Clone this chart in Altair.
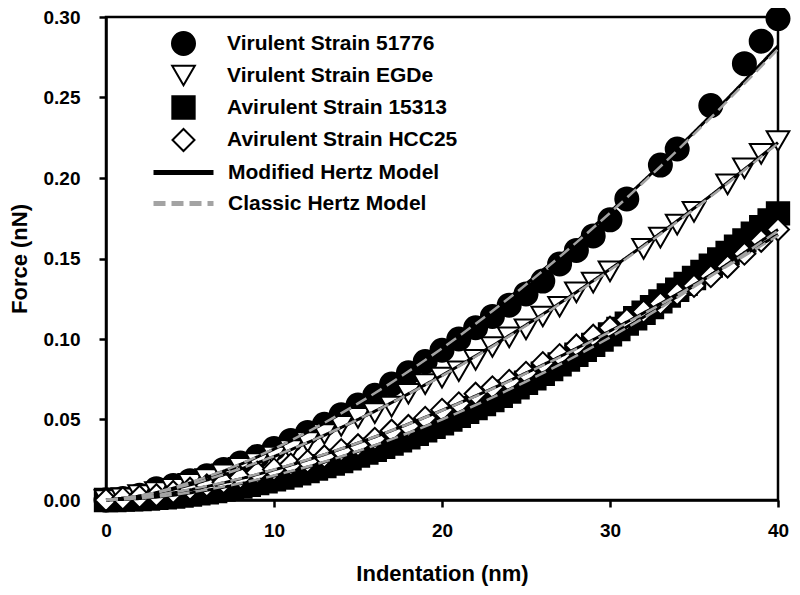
import altair as alt
import pandas as pd

SERIES = ["Virulent Strain 51776", "Virulent Strain EGDe",
          "Avirulent Strain 15313", "Avirulent Strain HCC25"]
MODELS = ["Modified Hertz Model", "Classic Hertz Model"]

# ---- measured data (indentation nm, force nN) ----
x_51776 = [0, 1, 2, 3, 4, 5, 6, 7, 8, 9, 10, 11, 12, 13, 14, 15, 16, 17, 18, 19, 20,
           21, 22, 23, 24, 25, 26, 27, 28, 29, 30, 31, 33, 34, 36, 38, 39, 40]
f_51776 = [0.000, 0.001, 0.003, 0.007, 0.009, 0.012, 0.015, 0.019, 0.023, 0.027, 0.032,
           0.037, 0.042, 0.047, 0.053, 0.059, 0.065, 0.072, 0.079, 0.086, 0.093,
           0.100, 0.107, 0.114, 0.121, 0.128, 0.136, 0.1466, 0.155, 0.164, 0.174,
           0.187, 0.208, 0.218, 0.245, 0.271, 0.285, 0.299]

x_egde = [0, 1, 2, 3, 4, 5, 6, 7, 8, 9, 10, 11, 12, 13, 14, 15, 16, 17, 18, 19, 20,
          21, 22, 23, 24, 25, 26, 27, 28, 29, 30, 32, 33, 34, 35, 37, 38, 39, 40]
f_egde = [0.000, 0.001, 0.003, 0.005, 0.007, 0.010, 0.013, 0.016, 0.020, 0.023, 0.027,
          0.031, 0.036, 0.041, 0.046, 0.051, 0.054, 0.058, 0.066, 0.072, 0.076,
          0.080, 0.087, 0.095, 0.101, 0.106, 0.114, 0.120, 0.129, 0.135, 0.142,
          0.156, 0.163, 0.171, 0.179, 0.196, 0.206, 0.215, 0.223]

x_15313 = [0, 0.5, 1, 1.5, 2, 2.5, 3, 3.5, 4, 4.5, 5, 5.5, 6, 6.5, 7, 7.5, 8, 8.5, 9, 9.5,
           10, 10.5, 11, 11.5, 12, 12.5, 13, 13.5, 14, 14.5, 15, 15.5, 16, 16.5, 17, 17.5,
           18, 18.5, 19, 19.5, 20, 20.5, 21, 21.5, 22, 22.5, 23, 23.5, 24, 24.5, 25, 25.5,
           26, 26.5, 27, 27.5, 28, 28.5, 29, 29.5, 30, 30.5, 31, 31.5, 32, 32.5, 33, 33.5,
           34, 34.5, 35, 35.5, 36, 36.5, 37, 37.5, 38, 38.5, 39, 39.5, 40]
f_15313 = [0.0000, 0.0000, 0.0002, 0.0004, 0.0006, 0.0009, 0.0013, 0.0017, 0.0022, 0.0028,
           0.0034, 0.0041, 0.0048, 0.0056, 0.0065, 0.0074, 0.0084, 0.0094, 0.0105, 0.0116,
           0.0128, 0.0140, 0.0153, 0.0166, 0.0180, 0.0195, 0.0210, 0.0226, 0.0242, 0.0259,
           0.0276, 0.0294, 0.0312, 0.0331, 0.0350, 0.0370, 0.0390, 0.0411, 0.0432, 0.0454,
           0.0476, 0.0499, 0.0523, 0.0547, 0.0571, 0.0596, 0.0621, 0.0647, 0.0673, 0.0700,
           0.0728, 0.0756, 0.0784, 0.0813, 0.0842, 0.0872, 0.0902, 0.0933, 0.0964, 0.0996,
           0.1029, 0.1062, 0.1095, 0.1129, 0.1163, 0.1198, 0.1234, 0.1270, 0.1306, 0.1342,
           0.1379, 0.1417, 0.1456, 0.1495, 0.1534, 0.1573, 0.1613, 0.1654, 0.1695, 0.1737,
           0.1780]

x_hcc25 = [0, 1, 2, 3, 4, 5, 6, 7, 8, 9, 10, 11, 12, 13, 14, 15, 16, 17, 18, 19, 20,
           21, 22, 23, 24, 25, 26, 27, 28, 29, 30, 31, 32, 33, 34, 35, 36, 37, 38, 39, 40]
f_hcc25 = [0.000, 0.001, 0.002, 0.003, 0.005, 0.007, 0.009, 0.011, 0.014, 0.017, 0.019,
           0.022, 0.024, 0.027, 0.031, 0.034, 0.038, 0.043, 0.046, 0.051, 0.056,
           0.060, 0.066, 0.070, 0.074, 0.079, 0.085, 0.090, 0.096, 0.102, 0.107,
           0.112, 0.117, 0.122, 0.128, 0.133, 0.139, 0.145, 0.153, 0.161, 0.168]

# ---- model curves ----
fit_x = [0, 2.5, 5, 7.5, 10, 15, 20, 25, 30, 35, 40]
mod_51776 = [0, 0.0035, 0.0106, 0.0200, 0.0316, 0.0599, 0.0943, 0.1342, 0.1790, 0.2284, 0.2820]
cls_51776 = [0, 0.0037, 0.0109, 0.0203, 0.0318, 0.0600, 0.0942, 0.1338, 0.1783, 0.2272, 0.2800]
mod_egde = [0, 0.0033, 0.0094, 0.0174, 0.0270, 0.0500, 0.0774, 0.1087, 0.1434, 0.1812, 0.2220]
cls_egde = [0, 0.0035, 0.0097, 0.0177, 0.0272, 0.0500, 0.0771, 0.1082, 0.1428, 0.1806, 0.2215]
mod_15313 = [0, 0.0013, 0.0044, 0.0090, 0.0149, 0.0302, 0.0500, 0.0738, 0.1015, 0.1330, 0.1680]
cls_15313 = [0, 0.0015, 0.0047, 0.0093, 0.0152, 0.0304, 0.0500, 0.0736, 0.1010, 0.1323, 0.1672]
mod_hcc25 = [0, 0.0021, 0.0063, 0.0119, 0.0187, 0.0354, 0.0557, 0.0789, 0.1050, 0.1338, 0.1650]
cls_hcc25 = [0, 0.0023, 0.0066, 0.0121, 0.0189, 0.0355, 0.0556, 0.0786, 0.1045, 0.1332, 0.1642]

# ---- build tables ----
pts = []
for name, xs, ys in [(SERIES[0], x_51776, f_51776), (SERIES[2], x_15313, f_15313),
                     (SERIES[1], x_egde, f_egde), (SERIES[3], x_hcc25, f_hcc25)]:
    for a, b in zip(xs, ys):
        pts.append({"x": a, "y": b, "series": name})
pts = pd.DataFrame(pts)

fits = []
for name, m, c in [(SERIES[0], mod_51776, cls_51776), (SERIES[1], mod_egde, cls_egde),
                   (SERIES[2], mod_15313, cls_15313), (SERIES[3], mod_hcc25, cls_hcc25)]:
    for a, b in zip(fit_x, m):
        fits.append({"x": a, "y": b, "series": name, "model": MODELS[0]})
    for a, b in zip(fit_x, c):
        fits.append({"x": a, "y": b, "series": name, "model": MODELS[1]})
fits = pd.DataFrame(fits)

FONT = "Liberation Sans"

xenc = alt.X("x:Q", scale=alt.Scale(domain=[0, 40], nice=False, zero=False),
             axis=alt.Axis(values=[0, 10, 20, 30, 40], format="d", title="Indentation (nm)",
                           labelPadding=14, titlePadding=23, labelFlush=False))
yenc = alt.Y("y:Q", scale=alt.Scale(domain=[0, 0.30], nice=False, zero=False),
             axis=alt.Axis(values=[0, 0.05, 0.10, 0.15, 0.20, 0.25, 0.30], format=".2f",
                           title="Force (nN)", labelPadding=19, titlePadding=12, labelFlush=False))

pt_legend = alt.Legend(title=None, orient="none", legendX=65, legendY=14, padding=0,
                       labelFont=FONT, labelFontSize=21, labelFontWeight="bold",
                       labelColor="black", labelOffset=31, rowPadding=2, labelLimit=0,
                       symbolStrokeWidth=2)

points = alt.Chart(pts).mark_point(filled=True, strokeWidth=2, opacity=1).encode(
    x=xenc, y=yenc,
    shape=alt.Shape("series:N", scale=alt.Scale(domain=SERIES,
                    range=["circle", "triangle-down", "square", "diamond"]), legend=pt_legend),
    fill=alt.Fill("series:N", scale=alt.Scale(domain=SERIES,
                  range=["black", "white", "black", "white"]), legend=pt_legend),
    stroke=alt.Stroke("series:N", scale=alt.Scale(domain=SERIES,
                      range=["black", "black", "black", "black"]), legend=pt_legend),
    size=alt.Size("series:N", scale=alt.Scale(domain=SERIES,
                  range=[529, 484, 400, 576]), legend=pt_legend),
)

ln_legend = alt.Legend(title=None, orient="none", legendX=65, legendY=143, padding=0,
                       labelFont=FONT, labelFontSize=21, labelFontWeight="bold",
                       labelColor="black", labelOffset=32, rowPadding=8, labelLimit=0,
                       symbolType="M-3,0L3,0", symbolSize=400, symbolStrokeWidth=5)

color_enc = alt.Color("model:N", scale=alt.Scale(domain=MODELS, range=["black", "#a3a3a3"]),
                      legend=ln_legend)
dash_enc = alt.StrokeDash("model:N", scale=alt.Scale(domain=MODELS, range=[[1, 0], [12, 6]]),
                          legend=ln_legend)

mod_line = alt.Chart(fits).transform_filter(alt.datum.model == MODELS[0]).mark_line(
    strokeWidth=3, interpolate="monotone").encode(
    x="x:Q", y="y:Q", detail="series:N", color=color_enc, strokeDash=dash_enc)

cls_line = alt.Chart(fits).transform_filter(alt.datum.model == MODELS[1]).mark_line(
    strokeWidth=2.5, interpolate="monotone").encode(
    x="x:Q", y="y:Q", detail="series:N", color=color_enc, strokeDash=dash_enc)

chart = alt.layer(points, mod_line, cls_line).properties(
    width=672, height=483,
    autosize=alt.AutoSizeParams(type="none"),
    padding={"left": 98, "top": 9, "right": 14, "bottom": 87},
).configure_view(
    stroke="black", strokeWidth=2.5
).configure_axis(
    grid=False, domainColor="black", domainWidth=2.5, tickColor="black", tickWidth=2.5,
    tickSize=7, labelFont=FONT, labelFontSize=19, labelFontWeight="bold", labelColor="black",
    titleFont=FONT, titleFontSize=22, titleFontWeight="bold", titleColor="black",
)

chart.save("out.html", embed_options={"renderer": "svg", "actions": False})
